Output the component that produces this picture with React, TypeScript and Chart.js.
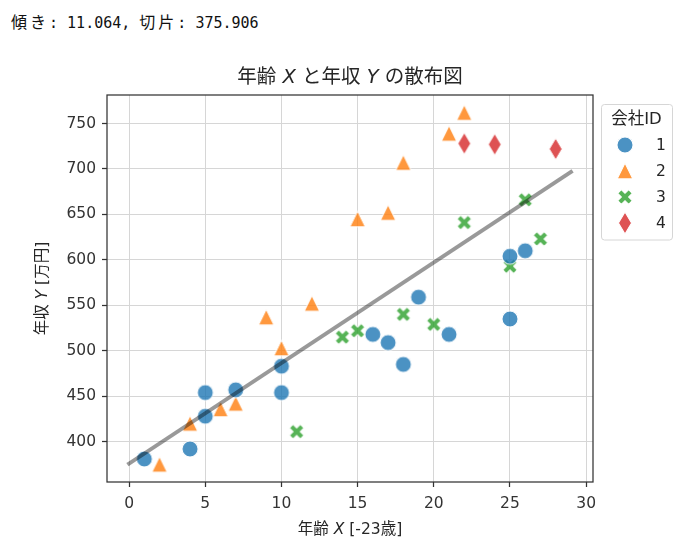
import { useEffect, useRef } from 'react'
import { Chart, registerables } from 'chart.js'

Chart.register(...registerables)

// 年齢 X (=年齢-23) と 年収 Y (万円)、会社IDごと
const company1X = [1, 4, 5, 5, 7, 10, 10, 16, 17, 18, 19, 21, 25, 25, 26]
const company1Y = [381, 392, 454, 428, 457, 483, 454, 518, 509, 485, 559, 518, 535, 604, 610]
const company2X = [2, 4, 6, 7, 9, 10, 12, 15, 17, 18, 21, 22]
const company2Y = [375, 420, 436, 442, 537, 503, 552, 645, 652, 707, 739, 762]
const company3X = [11, 14, 15, 18, 20, 22, 25, 26, 27]
const company3Y = [411, 515, 522, 540, 529, 641, 593, 666, 623]
const company4X = [22, 24, 28]
const company4Y = [728, 727, 722]

const companyIds = ['1', '2', '3', '4']
const xTicks = [0, 5, 10, 15, 20, 25, 30]
const yTicks = [400, 450, 500, 550, 600, 650, 700, 750]

// 回帰直線 (傾き 11.064, 切片 375.906)
const regLineX = [0, 29]
const regLineY = [375.906, 696.762]

const COLORS = ['#1f77b4', '#ff7f0e', '#2ca02c', '#d62728']
const SHAPES = ['circle', 'triangle', 'x', 'thinDiamond']
const FONT = '"DejaVu Sans", "Noto Sans CJK JP", sans-serif'
const TEXT = '#333'

function makeMarker(shape: string, color: string, ms = 15.5) {
  const size = 28
  const c = size / 2
  const base = document.createElement('canvas')
  base.width = size
  base.height = size
  const g = base.getContext('2d')!
  g.beginPath()
  if (shape === 'circle') {
    g.arc(c, c, ms / 2 + 0.3, 0, Math.PI * 2)
  } else if (shape === 'triangle') {
    const t = ms * 1.02
    g.moveTo(c, c - t / 2)
    g.lineTo(c + t / 2, c + t / 2)
    g.lineTo(c - t / 2, c + t / 2)
    g.closePath()
  } else if (shape === 'x') {
    const pts = [[-1, -3], [1, -3], [1, -1], [3, -1], [3, 1], [1, 1], [1, 3], [-1, 3], [-1, 1], [-3, 1], [-3, -1], [-1, -1]]
    const a = Math.PI / 4
    pts.forEach(([px, py], i) => {
      const x = (px / 6) * ms
      const y = (py / 6) * ms
      const rx = c + x * Math.cos(a) - y * Math.sin(a)
      const ry = c + x * Math.sin(a) + y * Math.cos(a)
      if (i) g.lineTo(rx, ry)
      else g.moveTo(rx, ry)
    })
    g.closePath()
  } else {
    const h = ms * Math.SQRT1_2
    const w = h * 0.6
    g.moveTo(c, c - h)
    g.lineTo(c + w, c)
    g.lineTo(c, c + h)
    g.lineTo(c - w, c)
    g.closePath()
  }
  g.fillStyle = color
  g.fill()
  g.strokeStyle = '#fff'
  g.lineWidth = 1.1
  g.stroke()

  const out = document.createElement('canvas')
  out.width = size
  out.height = size
  const o = out.getContext('2d')!
  o.globalAlpha = 0.8
  o.drawImage(base, 0, 0)
  return out
}

type Seg = { t: string; i?: boolean }

function drawSegs(ctx: CanvasRenderingContext2D, segs: Seg[], x: number, y: number, size: number) {
  const fontOf = (s: Seg) => `${s.i ? 'italic ' : ''}${size}px ${FONT}`
  let total = 0
  segs.forEach(s => { ctx.font = fontOf(s); total += ctx.measureText(s.t).width })
  let cx = x - total / 2
  ctx.textBaseline = 'middle'
  ctx.textAlign = 'left'
  segs.forEach(s => {
    ctx.font = fontOf(s)
    ctx.fillText(s.t, cx, y)
    cx += ctx.measureText(s.t).width
  })
}

export default function App() {
  const canvasRef = useRef<HTMLCanvasElement>(null)
  const chartRef = useRef<Chart | null>(null)

  useEffect(() => {
    document.body.style.margin = '0'
    if (!canvasRef.current) return

    const markers = SHAPES.map((s, i) => makeMarker(s, COLORS[i]))
    const series = [
      [company1X, company1Y],
      [company2X, company2Y],
      [company3X, company3Y],
      [company4X, company4Y],
    ]

    const decor = {
      id: 'decor',
      afterDatasetsDraw(chart: Chart) {
        const { ctx, chartArea: a } = chart
        ctx.save()
        ctx.strokeStyle = '#333'
        ctx.lineWidth = 1.25
        ctx.strokeRect(a.left, a.top, a.right - a.left, a.bottom - a.top)
        ctx.restore()
      },
      afterDraw(chart: Chart) {
        const { ctx, chartArea: a } = chart
        ctx.save()
        ctx.fillStyle = '#262626'
        drawSegs(ctx, [{ t: '年齢 ' }, { t: 'X', i: true }, { t: ' と年収 ' }, { t: 'Y', i: true }, { t: ' の散布図' }], (a.left + a.right) / 2, 78, 19.5)
        drawSegs(ctx, [{ t: '年齢 ' }, { t: 'X', i: true }, { t: ' [-23歳]' }], (a.left + a.right) / 2, 530, 15.5)
        ctx.save()
        ctx.translate(43, (a.top + a.bottom) / 2)
        ctx.rotate(-Math.PI / 2)
        drawSegs(ctx, [{ t: '年収 ' }, { t: 'Y', i: true }, { t: ' [万円]' }], 0, 0, 15.5)
        ctx.restore()

        // 凡例
        const lx = 601.5, ly = 104.5, lw = 71, lh = 135.5
        ctx.beginPath()
        ctx.roundRect(lx, ly, lw, lh, 3)
        ctx.fillStyle = 'rgba(255,255,255,0.8)'
        ctx.fill()
        ctx.strokeStyle = '#d6d6d6'
        ctx.lineWidth = 1
        ctx.stroke()
        ctx.fillStyle = '#262626'
        drawSegs(ctx, [{ t: '会社ID' }], 636.5, 120, 16.5)
        companyIds.forEach((id, i) => {
          const y = ly + 40.5 + i * 26
          const m = markers[i]
          ctx.drawImage(m, 625 - m.width / 2, y - m.height / 2)
          ctx.fillStyle = '#262626'
          ctx.font = `15.5px ${FONT}`
          ctx.textAlign = 'left'
          ctx.textBaseline = 'middle'
          ctx.fillText(id, 656, y + 1)
        })
        ctx.restore()
      },
    }

    if (chartRef.current) chartRef.current.destroy()
    chartRef.current = new Chart(canvasRef.current, {
      type: 'scatter',
      data: {
        datasets: [
          {
            label: '回帰直線',
            data: regLineX.map((x, i) => ({ x, y: regLineY[i] })),
            showLine: true,
            borderColor: 'rgba(0,0,0,0.4)',
            borderWidth: 4,
            borderCapStyle: 'square',
            pointRadius: 0,
            order: 0,
          } as any,
          ...series.map(([xs, ys], i) => ({
            label: companyIds[i],
            data: xs.map((x, j) => ({ x, y: ys[j] })),
            pointStyle: markers[i],
            pointRadius: 8,
            order: 1,
          })),
        ],
      },
      options: {
        responsive: false,
        animation: false,
        events: [],
        layout: { padding: { top: 95, right: 100, left: 0, bottom: 0 } },
        plugins: { legend: { display: false }, title: { display: false }, tooltip: { enabled: false } },
        scales: {
          x: {
            type: 'linear',
            min: -1.45,
            max: 30.45,
            afterBuildTicks: (s: any) => { s.ticks = xTicks.map(v => ({ value: v })) },
            afterFit: (s: any) => { s.height = 73 },
            ticks: { font: { size: 15.5, family: FONT }, color: TEXT, padding: 8, autoSkip: false, maxRotation: 0 },
            grid: { color: '#d6d6d6', lineWidth: 1, tickColor: '#333', tickLength: 5, tickWidth: 1.25 },
            border: { display: false },
          },
          y: {
            type: 'linear',
            min: 355.65,
            max: 781.35,
            afterBuildTicks: (s: any) => { s.ticks = yTicks.map(v => ({ value: v })) },
            afterFit: (s: any) => { s.width = 107 },
            ticks: { font: { size: 15.5, family: FONT }, color: TEXT, padding: 6, autoSkip: false },
            grid: { color: '#d6d6d6', lineWidth: 1, tickColor: '#333', tickLength: 5, tickWidth: 1.25 },
            border: { display: false },
          },
        },
      },
      plugins: [decor],
    })
    return () => { chartRef.current?.destroy() }
  }, [])

  return (
    <div style={{ position: 'relative', width: 693, height: 555, background: '#fff' }}>
      <div style={{ position: 'absolute', left: 11, top: 9, font: '15px "DejaVu Sans Mono", monospace', color: '#111', whiteSpace: 'pre' }}>
        <span style={{ fontFamily: '"Noto Sans CJK JP"', fontSize: 16, letterSpacing: 3 }}>傾き</span>
        {': 11.064, '}
        <span style={{ fontFamily: '"Noto Sans CJK JP"', fontSize: 16, letterSpacing: 3 }}>切片</span>
        {': 375.906'}
      </div>
      <canvas ref={canvasRef} width={693} height={555} style={{ position: 'absolute', left: 0, top: 0 }} />
    </div>
  )
}
